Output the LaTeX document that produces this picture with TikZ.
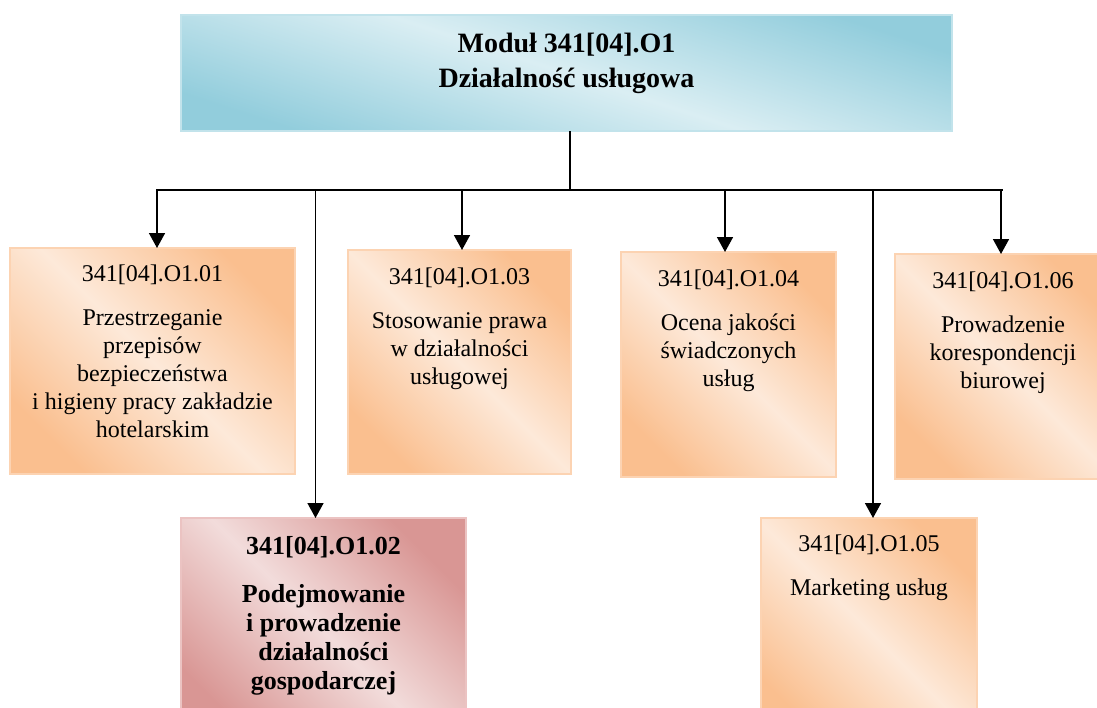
\documentclass[tikz,border=0pt]{standalone}
\usepackage{fontspec}
\setmainfont{Liberation Serif}
\usetikzlibrary{arrows.meta,positioning}
\definecolor{oDark}{HTML}{FABF8F}
\definecolor{oLight}{HTML}{FDE9D9}
\definecolor{oBorder}{HTML}{FCD3B2}
\definecolor{bDark}{HTML}{92CDDC}
\definecolor{bLight}{HTML}{DAEEF3}
\definecolor{bBorder}{HTML}{C2E3EB}
\definecolor{rDark}{HTML}{D99694}
\definecolor{rLight}{HTML}{F2DCDB}
\definecolor{rBorder}{HTML}{EBC3C2}
\begin{document}
\begin{tikzpicture}[x=1pt,y=-1pt,
  box/.style={rectangle, inner sep=0pt, outer sep=0pt, line width=2.2pt, anchor=north west},
  obox/.style={box, draw=oBorder, top color=oDark, bottom color=oDark, middle color=oLight, shading angle=-45},
  rbox/.style={box, draw=rBorder, top color=rDark, bottom color=rDark, middle color=rLight, shading angle=-45},
  tbox/.style={box, draw=bBorder, top color=bDark, bottom color=bDark, middle color=bLight, shading angle=-18},
  txt/.style={inner sep=0pt, align=center, font=\fontsize{24pt}{28pt}\selectfont},
  btxt/.style={inner sep=0pt, align=center, font=\bfseries\fontsize{26pt}{29pt}\selectfont},
  ttxt/.style={inner sep=0pt, align=center, font=\bfseries\fontsize{28pt}{35pt}\selectfont},
  arr/.style={line width=1.6pt, -{Triangle[width=16pt,length=15pt]}},
  bus/.style={line width=1.6pt}
]
\useasboundingbox (0,0) rectangle (1097,707);
\clip (0,0) rectangle (1097,707);

% top box
\node[tbox, minimum width=771pt, minimum height=116pt] (top) at (181,15) {};
\node[ttxt, below=18pt of top.north] (toptxt) {Moduł 341[04].O1\\Działalność usługowa};

% boxes
\node[obox, minimum width=285pt, minimum height=226pt] (b1) at (10,248) {};
\node[obox, minimum width=223pt, minimum height=224pt] (b3) at (348,250) {};
\node[obox, minimum width=215pt, minimum height=225pt] (b4) at (621,252) {};
\node[obox, minimum width=216pt, minimum height=225pt] (b6) at (895,254) {};
\node[rbox, minimum width=285pt, minimum height=226pt] (b2) at (181,518) {};
\node[obox, minimum width=216pt, minimum height=226pt] (b5) at (761,518) {};

\node[txt, below=17pt of b1.north] (t1txt) {341[04].O1.01\\[16pt]Przestrzeganie\\przepisów\\bezpieczeństwa\\i higieny pracy zakładzie\\hotelarskim};
\node[txt, below=18pt of b3.north] (t3txt) {341[04].O1.03\\[16pt]Stosowanie prawa\\w działalności\\usługowej};
\node[txt, below=18pt of b4.north] (t4txt) {341[04].O1.04\\[16pt]Ocena jakości\\świadczonych\\usług};
\node[txt, below=18pt of b6.north] (t6txt) {341[04].O1.06\\[16pt]Prowadzenie\\korespondencji\\biurowej};
\node[btxt, below=18pt of b2.north] (t2txt) {341[04].O1.02\\[19pt]Podejmowanie\\i prowadzenie\\działalności\\gospodarczej};
\node[txt, below=17pt of b5.north] (t5txt) {341[04].O1.05\\[16pt]Marketing usług};

% connectors
\coordinate (hub) at (570,190);
\coordinate (busL) at (156,190);
\coordinate (busR) at (1003,190);
\coordinate (a1) at (157,190);
\coordinate (a2) at (315.5,190);
\coordinate (a3) at (462,190);
\coordinate (a4) at (725,190);
\coordinate (a5) at (873,190);
\coordinate (a6) at (1001,190);

\draw[bus] (top.south -| hub) -- (hub);
\draw[bus] (busL) -- (busR);
\foreach \a/\b in {a1/b1, a2/b2, a3/b3, a4/b4, a5/b5, a6/b6}
  \draw[arr] (\a) -- (\a |- \b.north);
\end{tikzpicture}
\end{document}
